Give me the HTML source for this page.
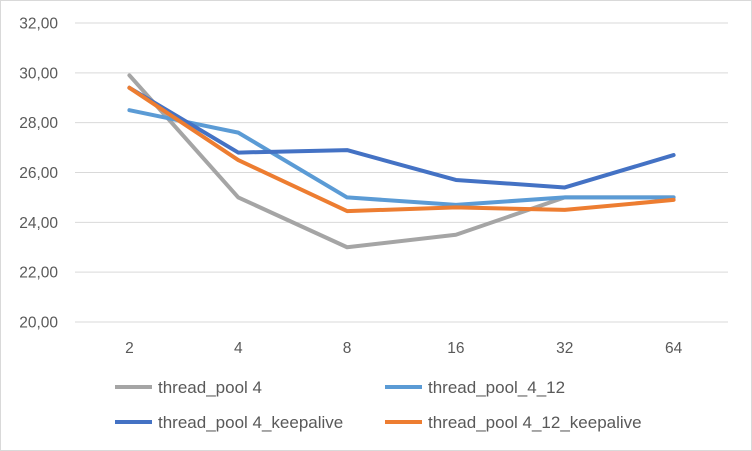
<!DOCTYPE html>
<html><head><meta charset="utf-8"><style>
body{margin:0;background:#fff;}
svg{display:block;font-family:"Liberation Sans",Arial,sans-serif;}
</style></head><body>
<svg id="chart" width="752" height="451">
<rect x="0.5" y="0.5" width="751" height="450" fill="#fff" stroke="#d9d9d9"/>
<g id="grid"></g><g id="yt"></g><g id="xt"></g><g id="lines"></g><g id="legend"></g>
</svg>
<script>
const categories=["2","4","8","16","32","64"];
const yTicks=[20,22,24,26,28,30,32];
const seriesNames=["thread_pool 4","thread_pool_4_12","thread_pool 4_keepalive","thread_pool 4_12_keepalive"];
const s1=[29.9,25.0,23.0,23.5,25.0,25.0];
const s2=[28.5,27.6,25.0,24.7,25.0,25.0];
const s3=[29.4,26.8,26.9,25.7,25.4,26.7];
const s4=[29.4,26.5,24.45,24.6,24.5,24.9];
const colors=["#a5a5a5","#5b9bd5","#4472c4","#ed7d31"];
const ns="http://www.w3.org/2000/svg";
const x0=75,x1=728,y0=322,y1=23;
const xs=i=>x0+(x1-x0)*(i+0.5)/categories.length;
const ys=v=>y0-(v-20)/12*(y0-y1);
function mk(tag,attrs,parent,text){const e=document.createElementNS(ns,tag);for(const k in attrs)e.setAttribute(k,attrs[k]);if(text!==undefined)e.textContent=text;document.getElementById(parent).appendChild(e);return e;}
yTicks.forEach(t=>{
 const g=mk("line",{x1:x0,x2:x1,y1:ys(t),y2:ys(t),stroke:"#d9d9d9","stroke-width":1},"grid");
 
 
 const l=mk("text",{x:58,y:ys(t)+5.5,"text-anchor":"end","font-size":15.5,fill:"#595959"},"yt",t.toFixed(2).replace(".",","));
 
 
});
categories.forEach((c,i)=>{
 const l=mk("text",{x:xs(i),y:353,"text-anchor":"middle","font-size":15.5,fill:"#595959"},"xt",c);
 
 
});
[s1,s2,s3,s4].forEach((s,k)=>{
 const p=mk("polyline",{points:s.map((v,i)=>xs(i)+","+ys(v)).join(" "),fill:"none",stroke:colors[k],"stroke-width":4,"stroke-linejoin":"round","stroke-linecap":"round"},"lines");
 
 
});
const lx=[115,385],ly=[387,422];
seriesNames.forEach((n,k)=>{
 const X=lx[k%2],Y=ly[Math.floor(k/2)];
 const l=mk("line",{x1:X,x2:X+37,y1:Y,y2:Y,stroke:colors[k],"stroke-width":4},"legend");
 
 
 const t=mk("text",{x:X+43,y:Y+6,"font-size":17,fill:"#595959"},"legend",n);
 
 
});
</script>
</body></html>
